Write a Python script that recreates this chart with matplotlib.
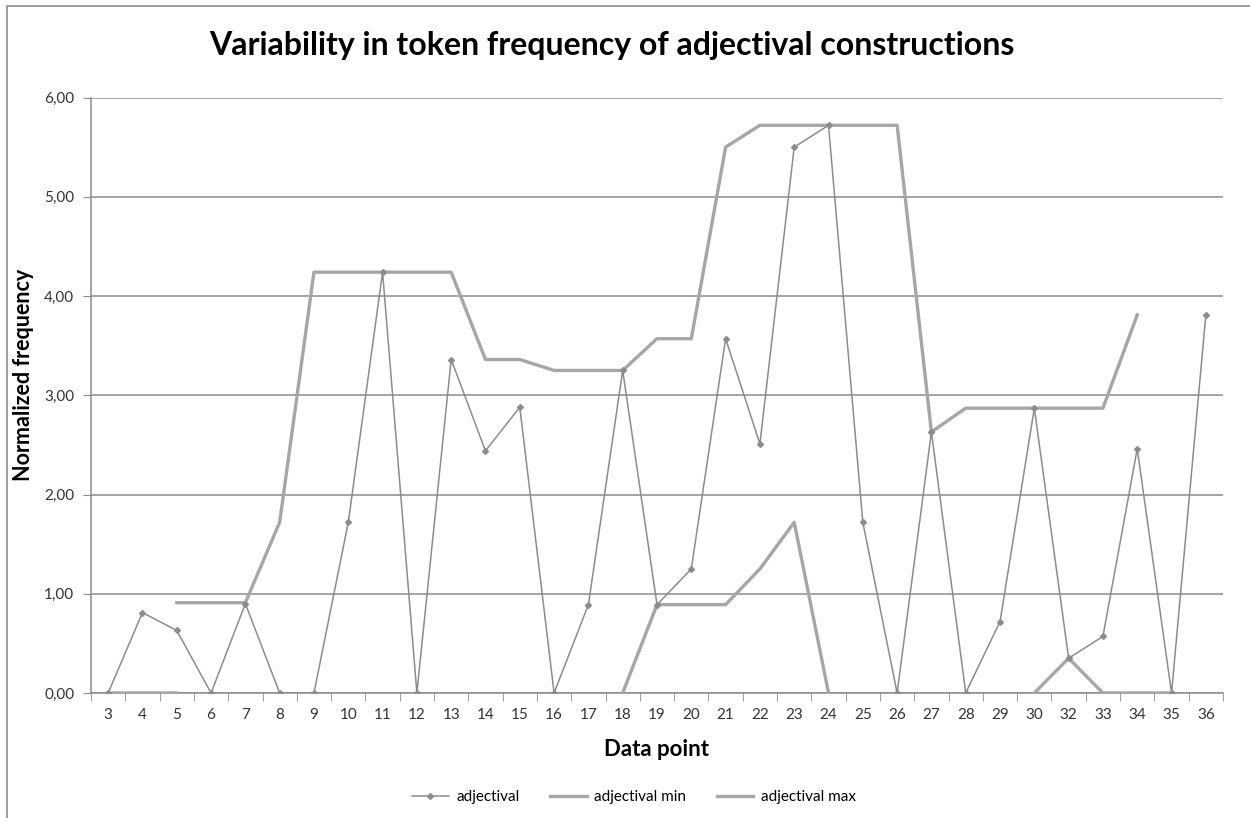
import numpy as np
import matplotlib
matplotlib.use("Agg")
import matplotlib.pyplot as plt
from matplotlib.patches import Rectangle
from matplotlib.ticker import FuncFormatter

plt.rcParams['font.family'] = ['Lato', 'DejaVu Sans']

nan = np.nan
labels = ['3', '4', '5', '6', '7', '8', '9', '10', '11', '12', '13', '14', '15', '16',
          '17', '18', '19', '20', '21', '22', '23', '24', '25', '26', '27', '28', '29',
          '30', '32', '33', '34', '35', '36']
adjectival = [0, 0.81, 0.63, 0, 0.90, 0, 0, 1.72, 4.24, 0, 3.36, 2.44, 2.88, 0,
              0.89, 3.25, 0.89, 1.25, 3.57, 2.51, 5.50, 5.72, 1.72, 0, 2.63, 0, 0.72,
              2.87, 0.35, 0.57, 2.46, 0, 3.81]
adj_min = [0, 0, 0, nan, nan, nan, nan, nan, nan, nan, nan, nan, nan, nan,
           nan, 0, 0.89, 0.89, 0.89, 1.25, 1.72, 0, nan, nan, nan, nan, nan,
           0, 0.35, 0, 0, 0, nan]
adj_max = [nan, nan, 0.91, 0.91, 0.91, 1.72, 4.24, 4.24, 4.24, 4.24, 4.24, 3.36, 3.36, 3.25,
           3.25, 3.25, 3.57, 3.57, 5.50, 5.72, 5.72, 5.72, 5.72, 5.72, 2.63, 2.87, 2.87,
           2.87, 2.87, 2.87, 3.81, nan, nan]

x = np.arange(len(labels))

fig = plt.figure(figsize=(12.5, 8.18), dpi=100)
ax = fig.add_axes([91 / 1250, 1 - 693 / 818, (1223 - 91) / 1250, (693 - 97.5) / 818])

# outer chart frame (only left/top visible in the reference)
fig.patches.append(Rectangle((7 / 1250, -0.05), 1.2, 1 - 6 / 818 + 0.05,
                             transform=fig.transFigure, fill=False,
                             edgecolor='#8c8c8c', linewidth=1.2))

ax.plot(x, adj_min, color='#a6a6a6', linewidth=2.4, label='adjectival min', zorder=3)
ax.plot(x, adj_max, color='#a6a6a6', linewidth=2.4, label='adjectival max', zorder=3)
ax.plot(x, adjectival, color='#8c8c8c', linewidth=1.1, marker='D', markersize=3,
        label='adjectival', zorder=4)

ax.set_xlim(-0.5, len(labels) - 0.5)
ax.set_ylim(0, 6)
ax.set_yticks(np.arange(0, 7, 1))
ax.yaxis.set_major_formatter(FuncFormatter(lambda v, p: f"{v:.2f}".replace('.', ',')))
ax.set_xticks(x)
ax.set_xticklabels(labels)
ax.set_xticks(np.arange(-0.5, len(labels), 1), minor=True)
ax.tick_params(axis='x', which='major', length=0, pad=11, labelsize=11, labelcolor='#333333')
ax.tick_params(axis='x', which='minor', length=6, color='#8c8c8c', direction='out')
ax.tick_params(axis='y', length=6, color='#8c8c8c', pad=6, labelsize=11, labelcolor='#333333')

ax.grid(axis='y', color='#8c8c8c', linewidth=1.1)
ax.set_axisbelow(True)
for side in ['top', 'right']:
    ax.spines[side].set_visible(False)
for side in ['left', 'bottom']:
    ax.spines[side].set_color('#8c8c8c')
    ax.spines[side].set_linewidth(1.1)

ax.set_xlabel('Data point', fontsize=16, fontweight='bold', labelpad=12)
ax.set_ylabel('Normalized frequency', fontsize=15.5, fontweight='bold')
ax.yaxis.set_label_coords(-0.050, 0.534)
fig.text(612 / 1250, 1 - 45 / 818, 'Variability in token frequency of adjectival constructions',
         ha='center', va='center', fontsize=23, fontweight='bold')

handles, lbls = ax.get_legend_handles_labels()
order = [2, 0, 1]
fig.legend([handles[i] for i in order], [lbls[i] for i in order], loc='center',
           bbox_to_anchor=(634 / 1250, 1 - 797 / 818), ncol=3, frameon=False,
           fontsize=11, handlelength=2.4, handletextpad=0.5, columnspacing=2.0)

fig.savefig('out.png', dpi=100, facecolor='white')
